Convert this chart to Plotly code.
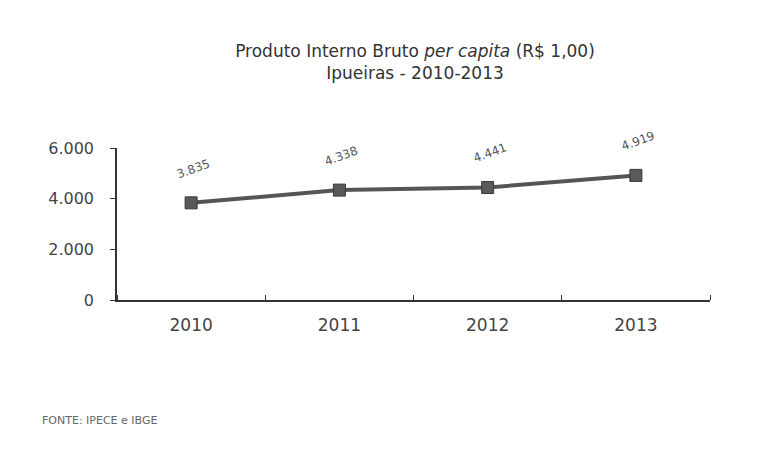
import plotly.graph_objects as go

years = [2010, 2011, 2012, 2013]
pib_per_capita = [3835, 4338, 4441, 4919]
y_ticks = [0, 2000, 4000, 6000]
source_text = "FONTE: IPECE e IBGE"

FONT = "DejaVu Sans, Liberation Sans, Arial"

def fmt(v):
    return f"{v:,}".replace(",", ".")

fig = go.Figure()
fig.add_trace(go.Scatter(
    x=years, y=pib_per_capita, mode="lines+markers",
    line=dict(color="#555555", width=4),
    marker=dict(symbol="square", size=12, color="#5a5a5a",
                line=dict(color="#3a3a3a", width=1)),
    showlegend=False, hoverinfo="skip",
))

for x, v in zip(years, pib_per_capita):
    fig.add_annotation(x=x, y=v, text=fmt(v), showarrow=False,
                       textangle=-20, yshift=34, xshift=2,
                       font=dict(family=FONT, size=12, color="#555"))

fig.add_annotation(xref="paper", yref="paper", x=-0.13, y=-0.796,
                   xanchor="left", yanchor="middle", showarrow=False,
                   text=source_text,
                   font=dict(family=FONT, size=11, color="#666"))

fig.update_layout(
    width=760, height=451,
    margin=dict(l=109, r=58, t=140, b=159),
    paper_bgcolor="white", plot_bgcolor="white",
    separators=",.",
    title=dict(text="Produto Interno Bruto <i>per capita</i> (R$ 1,00)<br>Ipueiras - 2010-2013",
               x=0.5355, xanchor="center", y=0.891, yanchor="middle",
               font=dict(family=FONT, size=17, color="#333")),
    font=dict(family=FONT, color="#444"),
    xaxis=dict(range=[years[0] - 0.5, years[-1] + 0.5], tickvals=years,
               ticktext=[str(y) for y in years],
               showgrid=False, showline=True, linecolor="#333", linewidth=2,
               ticks="", tickfont=dict(size=17, color="#444"),
               ticklabelstandoff=9, zeroline=False,
               minor=dict(ticks="inside", tick0=years[0] - 0.5, dtick=1,
                          ticklen=5, tickcolor="#333", showgrid=False)),
    yaxis=dict(range=[0, 6000], tickvals=y_ticks, tickformat=",d",
               showgrid=False, showline=True, linecolor="#333", linewidth=1.5,
               ticks="outside", ticklen=5, tickcolor="#333",
               tickfont=dict(size=16, color="#444"), ticklabelstandoff=13,
               zeroline=False),
)

fig.write_html("out.html")
